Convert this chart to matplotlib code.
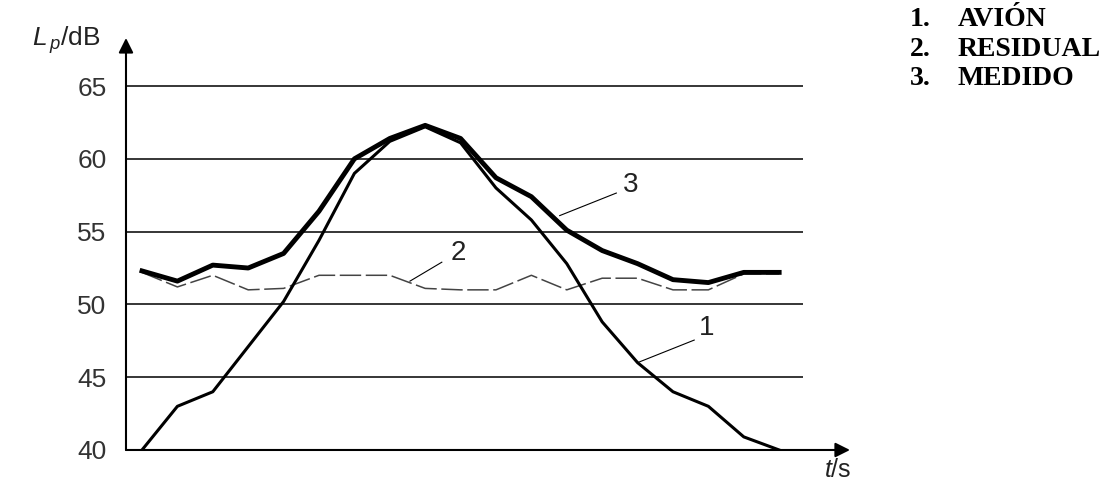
import numpy as np
import matplotlib
matplotlib.use('Agg')
import matplotlib.pyplot as plt

plt.rcParams['font.family'] = ['Liberation Sans', 'DejaVu Sans']
plt.rcParams['mathtext.fontset'] = 'custom'
plt.rcParams['mathtext.rm'] = 'Liberation Sans'
plt.rcParams['mathtext.it'] = 'Liberation Sans:italic'

# time steps (arbitrary units, equally spaced)
t = np.arange(19)

# 1. aircraft
avion = [40.0, 43.0, 44.0, 47.1, 50.2, 54.4, 59.0, 61.2, 62.2, 61.1, 58.0,
         55.8, 52.8, 48.8, 46.0, 44.0, 43.0, 40.9, 40.0]
# 2. residual (background)
residual = [52.2, 51.2, 52.0, 51.0, 51.1, 52.0, 52.0, 52.0, 51.1, 51.0, 51.0,
            52.0, 51.0, 51.8, 51.8, 51.0, 51.0, 52.1, 52.1]
# 3. measured
medido = [52.3, 51.6, 52.7, 52.5, 53.5, 56.4, 60.0, 61.4, 62.3, 61.4, 58.7,
          57.4, 55.1, 53.7, 52.8, 51.7, 51.5, 52.2, 52.2]

y_ticks = [40, 45, 50, 55, 60, 65]
legend_nums = ['1.', '2.', '3.']
legend_names = ['AVIÓN', 'RESIDUAL', 'MEDIDO']

fig = plt.figure(figsize=(11.15, 4.86), dpi=100)
ax = fig.add_axes([0.1130, 0.0741, 0.6493, 0.8477])
x0, x1 = -0.452, 20.0
ax.set_xlim(x0, x1)
ax.set_ylim(40, 68.3)
for s in ax.spines.values():
    s.set_visible(False)
ax.set_xticks([])
ax.set_yticks(y_ticks)
ax.tick_params(axis='y', length=0, pad=14, labelsize=19, labelcolor='#333333')

# horizontal grid
ax.hlines(y_ticks[1:], x0, 18.67, color='black', lw=1.1)

# axes with arrows
ax.annotate('', xy=(x0, 68.3), xytext=(x0, 40), annotation_clip=False,
            arrowprops=dict(arrowstyle='-|>', lw=1.5, color='black', mutation_scale=22, shrinkA=0, shrinkB=0))
ax.annotate('', xy=(x1, 40), xytext=(x0, 40), annotation_clip=False,
            arrowprops=dict(arrowstyle='-|>', lw=1.5, color='black', mutation_scale=22, shrinkA=0, shrinkB=0))

ax.plot(t, residual, color='#444444', lw=1.1, dashes=(14, 3))
ax.plot(t, avion, color='black', lw=2.2)
ax.plot(t, medido, color='black', lw=3.5)

# curve labels with leader lines
ax.plot([11.8, 13.4], [56.1, 57.65], color='black', lw=0.8)
ax.text(13.8, 58.2, '3', fontsize=20, ha='center', va='center', color='#222222')
ax.plot([7.57, 8.47], [51.6, 52.9], color='black', lw=0.8)
ax.text(8.93, 53.5, '2', fontsize=20, ha='center', va='center', color='#222222')
ax.plot([14.0, 15.6], [46.0, 47.55], color='black', lw=0.8)
ax.text(15.96, 48.4, '1', fontsize=20, ha='center', va='center', color='#222222')

fig.text(100 / 1115, 1 - 40 / 486, r'$L_{\,p}$/dB', fontsize=19, ha='right', va='center', color='#222222')
fig.text(838 / 1115, 1 - 470 / 486, r'$t$/s', fontsize=18, ha='center', va='center', color='#222222')

for i in range(3):
    y = 1 - (20 + 29 * i) / 486
    fig.text(910 / 1115, y, legend_nums[i], fontsize=20, fontweight='bold',
             family='Liberation Serif', ha='left', va='center')
    fig.text(958 / 1115, y, legend_names[i], fontsize=20, fontweight='bold',
             family='Liberation Serif', ha='left', va='center')

fig.savefig('out.png', dpi=100)
